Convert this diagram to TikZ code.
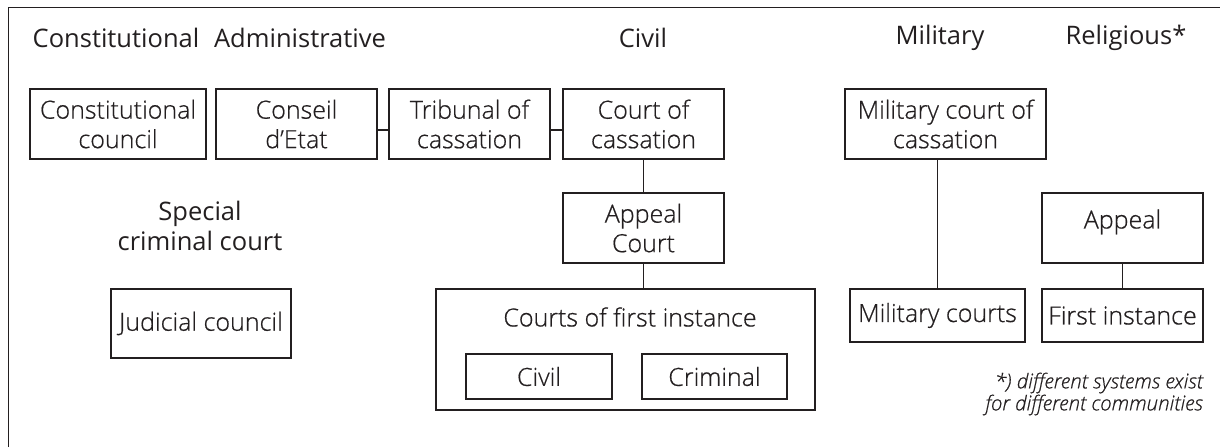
\documentclass[tikz,border=0pt]{standalone}
\usepackage{fontspec}
\setmainfont{Open Sans}
\newfontfamily\lightfont{Open Sans Light}[FakeBold=0.6]
\begin{document}
\begin{tikzpicture}[x=1pt,y=-1pt,
  ink/.style={color={rgb,255:red,35;green,31;blue,32}},
  box/.style={draw, ink, line width=1.6pt, inner sep=0pt, align=center,
     font=\lightfont\fontsize{25}{29.5}\selectfont},
  head/.style={ink, inner sep=0pt, font=\fontsize{25.5}{29.5}\selectfont},
  conn/.style={ink, line width=1.6pt}]
\useasboundingbox (0,0) rectangle (1220,447);
\draw[conn] (8.5,447) -- (8.5,7.5) -- (1220,7.5);
% headers
\node[head] (hcon) at (116,38) {Constitutional};
\node[head] (hadm) at (300,38) {Administrative};
\node[head] (hciv) at (643,38) {Civil};
\node[head] (hmil) at (940,38) {Military};
\node[head] (hrel) at (1126,38) {Religious*};
% top row
\node[box, minimum width=176pt, minimum height=70pt] (cc) at (118,124) {Constitutional\\council};
\node[box, minimum width=161pt, minimum height=70pt] (ce) at (296.5,124) {Conseil\\d’Etat};
\node[box, minimum width=161pt, minimum height=70pt] (tc) at (469.5,124) {Tribunal of\\cassation};
\node[box, minimum width=161pt, minimum height=70pt] (cas) at (643.5,124) {Court of\\cassation};
\node[box, minimum width=201pt, minimum height=70pt] (mcc) at (945.5,124) {Military court of\\cassation};
% second row
\node[box, minimum width=161pt, minimum height=70pt] (app) at (643.5,228) {Appeal\\Court};
\node[box, minimum width=161pt, minimum height=70pt] (rapp) at (1122.5,228) {\raisebox{6pt}[\height][\depth]{Appeal}};
\node[head, align=center] (scc) at (200,226) {Special\\criminal court};
% third row
\node[box, minimum width=180pt, minimum height=69pt] (jc) at (201,323.5) {Judicial council};
\node[box, minimum width=379pt, minimum height=121pt] (cfi) at (625.5,349.5) {};
\node[ink, inner sep=0pt, font=\lightfont\fontsize{25}{29.5}\selectfont] (cfit) at (630,317) {Courts of first instance};
\node[box, minimum width=146pt, minimum height=45pt] (civ) at (539,376.5) {Civil};
\node[box, minimum width=145pt, minimum height=45pt] (crim) at (714.5,376.5) {Criminal};
\node[box, minimum width=175pt, minimum height=53pt] (mc) at (937.5,315.5) {Military courts};
\node[box, minimum width=161pt, minimum height=53pt] (fi) at (1122.5,315.5) {First instance};
% footnote
\node[ink, inner sep=0pt, anchor=east, align=right, font=\lightfont\fontsize{20.5}{22}\itshape] (note) at (1203,394) {*) different systems exist\\for different communities};
% connectors
\draw[conn] (ce.east |- 0,130) coordinate (a1) -- (tc.west |- a1);
\draw[conn] (tc.east |- 0,130) coordinate (a2) -- (cas.west |- a2);
\draw[conn] (cas.south) -- (app.north);
\draw[conn] (app.south) -- (cfi.north -| app.south);
\draw[conn] (mc.north) -- (mc.north |- mcc.south);
\draw[conn] (rapp.south) -- (fi.north);
\end{tikzpicture}
\end{document}
